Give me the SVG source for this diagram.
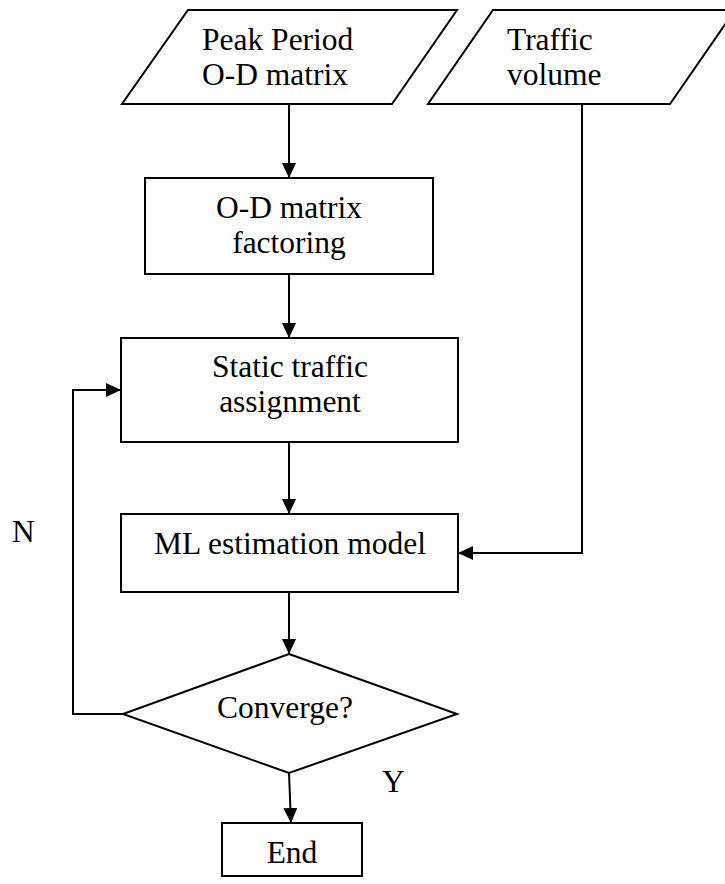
<svg xmlns="http://www.w3.org/2000/svg" width="725" height="884" viewBox="0 0 725 884">
<defs>
<marker id="arr" markerWidth="15" markerHeight="14" refX="15" refY="7" orient="auto" markerUnits="userSpaceOnUse">
<path d="M0,0 L15,7 L0,14 Z" fill="#000"/>
</marker>
<style>
.shape{fill:#fff;stroke:#000;stroke-width:2}
.t{font-family:"Liberation Serif","Times New Roman",serif;font-size:31.5px;fill:#000}
.c{text-anchor:middle}
.conn{fill:none;stroke:#000;stroke-width:2}
</style>
</defs>
<rect width="725" height="884" fill="#fff"/>
<g id="connectors">
<path class="conn" d="M289,104 L289,178" marker-end="url(#arr)"/>
<path class="conn" d="M289,274 L289,338" marker-end="url(#arr)"/>
<path class="conn" d="M289,442 L289,514" marker-end="url(#arr)"/>
<path class="conn" d="M582,104 L582,553 L458,553" marker-end="url(#arr)"/>
<path class="conn" d="M289,592 L289,654" marker-end="url(#arr)"/>
<path class="conn" d="M123,714 L73,714 L73,390 L121,390" marker-end="url(#arr)"/>
<path class="conn" d="M289,773 L291,823" marker-end="url(#arr)"/>
</g>
<g id="peak-od">
<polygon class="shape" points="188,10 457,10 392,104 122,104"/>
<text class="t" x="202" y="50">Peak Period</text>
<text class="t" x="202" y="85">O-D matrix</text>
</g>
<g id="traffic-volume">
<polygon class="shape" points="493,10 735,10 670,104 428,104"/>
<text class="t" x="507" y="50">Traffic</text>
<text class="t" x="507" y="85">volume</text>
</g>
<g id="od-factoring">
<rect class="shape" x="145" y="178" width="288" height="96"/>
<text class="t c" x="289" y="218">O-D matrix</text>
<text class="t c" x="289" y="253">factoring</text>
</g>
<g id="static-assignment">
<rect class="shape" x="121" y="338" width="337" height="104"/>
<text class="t c" x="290" y="377">Static traffic</text>
<text class="t c" x="290" y="412">assignment</text>
</g>
<g id="ml-model">
<rect class="shape" x="121" y="514" width="337" height="78"/>
<text class="t c" x="290" y="554">ML estimation model</text>
</g>
<g id="converge">
<polygon class="shape" points="289,654 457,714 289,773 123,714"/>
<text class="t" x="217" y="718">Converge?</text>
</g>
<g id="end">
<rect class="shape" x="222" y="823" width="140" height="53"/>
<text class="t c" x="292" y="863">End</text>
</g>
<g id="labels">
<text class="t" x="12" y="542">N</text>
<text class="t" x="382" y="792">Y</text>
</g>
</svg>
